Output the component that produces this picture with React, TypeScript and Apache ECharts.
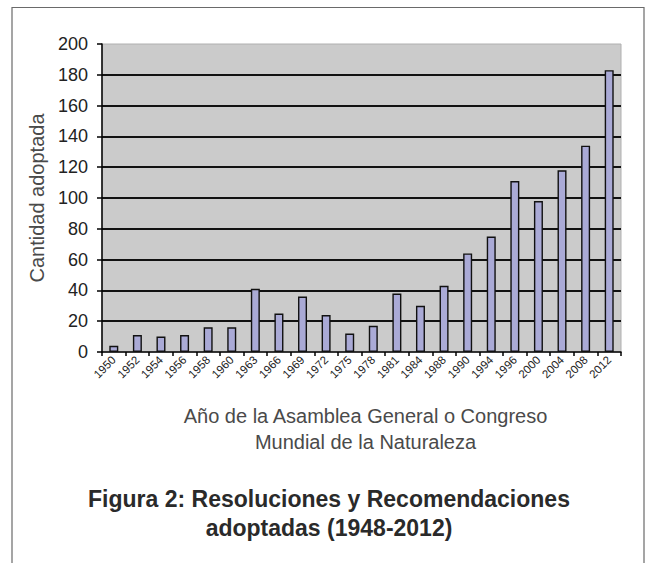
import React, { useEffect, useRef } from "react";
import * as echarts from "echarts";

const years = ["1950", "1952", "1954", "1956", "1958", "1960", "1963", "1966", "1969", "1972", "1975", "1978", "1981", "1984", "1988", "1990", "1994", "1996", "2000", "2004", "2008", "2012"];
const counts = [4, 11, 10, 11, 16, 16, 41, 25, 36, 24, 12, 17, 38, 30, 43, 64, 75, 111, 98, 118, 134, 183];
const yAxisName = "Cantidad adoptada";
const xAxisName = "Año de la Asamblea General o Congreso\nMundial de la Naturaleza";
const titleText = "Figura 2: Resoluciones y Recomendaciones\nadoptadas (1948-2012)";

const FONT = "'Liberation Sans', Arial, Helvetica, sans-serif";

export default function App() {
  const ref = useRef<HTMLDivElement>(null);
  useEffect(() => {
    if (!ref.current) return;
    const chart = echarts.init(ref.current, null, { renderer: "svg" });
    chart.setOption({
      animation: false,
      backgroundColor: "#ffffff",
      textStyle: { fontFamily: FONT },
      title: {
        text: titleText,
        left: 329,
        top: 485,
        padding: 0,
        textAlign: "center",
        textVerticalAlign: "top",
        textStyle: {
          fontFamily: FONT,
          fontSize: 23,
          fontWeight: "bold",
          color: "#2a2a2a",
          lineHeight: 28.5,
        },
      },
      graphic: [
        {
          type: "polyline",
          shape: { points: [[12, 570], [12, 7.5], [644, 7.5], [644, 570]] },
          style: { stroke: "#6a6a6a", lineWidth: 1.2, fill: "none" },
          silent: true,
        },
      ],
      grid: {
        left: 102,
        right: 27,
        top: 44,
        bottom: 211,
        show: true,
        backgroundColor: "#cbcbcb",
        borderColor: "#b0b0b0",
        borderWidth: 1,
      },
      xAxis: {
        type: "category",
        data: years,
        boundaryGap: true,
        name: xAxisName,
        nameLocation: "middle",
        nameGap: 51,
        nameTextStyle: {
          fontFamily: FONT,
          fontSize: 20,
          color: "#4a4a4a",
          lineHeight: 26,
          padding: [0, 0, 0, 8],
        },
        axisLine: { show: true, lineStyle: { color: "#000", width: 1.5 } },
        axisTick: { show: true, length: 4, lineStyle: { color: "#000", width: 1.5 } },
        axisLabel: {
          rotate: 45,
          fontSize: 11.5,
          color: "#222",
          margin: 6,
          interval: 0,
          fontFamily: FONT,
        },
        splitLine: { show: false },
      },
      yAxis: {
        type: "value",
        min: 0,
        max: 200,
        interval: 20,
        name: yAxisName,
        nameLocation: "middle",
        nameGap: 53,
        nameRotate: 90,
        nameTextStyle: { fontFamily: FONT, fontSize: 20, color: "#4a4a4a" },
        axisLine: { show: true, lineStyle: { color: "#000", width: 1.5 } },
        axisTick: { show: true, length: 5, lineStyle: { color: "#000", width: 1.5 } },
        axisLabel: { fontSize: 18, color: "#222", margin: 14, fontFamily: FONT },
        splitLine: {
          show: true,
          showMinLine: false,
          showMaxLine: false,
          lineStyle: { color: "#111", width: 1.8 },
        },
      },
      series: [
        {
          type: "bar",
          data: counts,
          barWidth: 9,
          itemStyle: { color: "#aaaad6", borderColor: "#111", borderWidth: 1.4 },
        },
      ],
    });
    return () => chart.dispose();
  }, []);
  return (
    <div
      ref={ref}
      style={{ position: "fixed", left: 0, top: 0, width: 648, height: 563 }}
    />
  );
}
